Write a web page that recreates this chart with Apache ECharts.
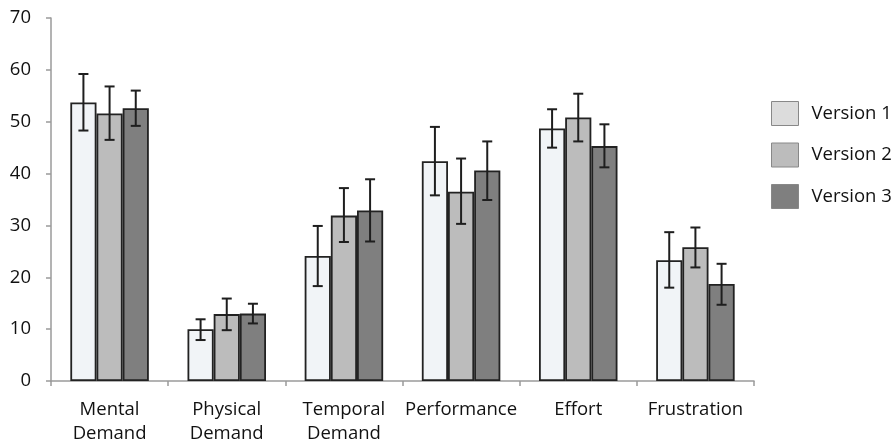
<!DOCTYPE html>
<html>
<head>
<meta charset="utf-8">
<script src="https://cdn.jsdelivr.net/npm/echarts@6/dist/echarts.min.js"></script>
<style>
html,body{margin:0;padding:0;background:#fff;}
#chart{width:893px;height:448px;}
</style>
</head>
<body>
<div id="chart"></div>
<script>
var categories = ['Mental\nDemand', 'Physical\nDemand', 'Temporal\nDemand', 'Performance', 'Effort', 'Frustration'];
var seriesNames = ['Version 1', 'Version 2', 'Version 3'];
var yTicks = [0, 10, 20, 30, 40, 50, 60, 70];

var v1 = [53.7, 10.0, 24.1, 42.4, 48.7, 23.3];
var v2 = [51.6, 12.9, 31.9, 36.5, 50.8, 25.8];
var v3 = [52.6, 13.0, 32.9, 40.6, 45.3, 18.7];

var v1Low  = [48.3, 7.9, 18.3, 35.8, 45.0, 18.0];
var v1High = [59.2, 11.9, 29.9, 49.0, 52.4, 28.7];
var v2Low  = [46.5, 9.8, 26.8, 30.3, 46.2, 21.9];
var v2High = [56.8, 15.9, 37.2, 42.9, 55.4, 29.6];
var v3Low  = [49.2, 11.1, 26.9, 34.9, 41.2, 14.7];
var v3High = [56.0, 14.9, 38.9, 46.2, 49.5, 22.6];

var values = [v1, v2, v3];
var lows = [v1Low, v2Low, v3Low];
var highs = [v1High, v2High, v3High];
var barColors = ['#f1f4f7', '#bcbcbc', '#7f7f7f'];
var legendColors = ['#dcdcdc', '#bcbcbc', '#7f7f7f'];

var chart = echarts.init(document.getElementById('chart'), null, {renderer: 'canvas'});
var GAP = 0.33;

function errorSeries(idx) {
  var data = categories.map(function (c, i) { return [i, lows[idx][i], highs[idx][i]]; });
  return {
    type: 'custom',
    name: seriesNames[idx] + ' err',
    silent: true,
    z: 10,
    data: data,
    renderItem: function (params, api) {
      var ci = api.value(0);
      var lo = api.coord([ci, api.value(1)]);
      var hi = api.coord([ci, api.value(2)]);
      var band = api.size([1, 0])[0];
      var bw = band * (1 - GAP) / 3;
      var x = lo[0] + (idx - 1) * bw;
      var cap = 5;
      var st = {stroke: '#1e1e1e', lineWidth: 2};
      return {
        type: 'group',
        children: [
          {type: 'line', shape: {x1: x, y1: lo[1], x2: x, y2: hi[1]}, style: st},
          {type: 'line', shape: {x1: x - cap, y1: lo[1], x2: x + cap, y2: lo[1]}, style: st},
          {type: 'line', shape: {x1: x - cap, y1: hi[1], x2: x + cap, y2: hi[1]}, style: st}
        ]
      };
    }
  };
}

var series = [];
for (var s = 0; s < 3; s++) {
  series.push({
    type: 'bar',
    name: seriesNames[s],
    data: values[s],
    barGap: '0%',
    barCategoryGap: (GAP * 100) + '%',
    itemStyle: {color: barColors[s], borderColor: '#222', borderWidth: 1.8}
  });
}
for (var s2 = 0; s2 < 3; s2++) series.push(errorSeries(s2));

chart.setOption({
  animation: false,
  textStyle: {fontFamily: 'Open Sans'},
  grid: {left: 51, right: 139, top: 18, bottom: 67},
  legend: {
    orient: 'vertical',
    left: 771,
    top: 101,
    padding: 0,
    itemWidth: 27,
    itemHeight: 24,
    itemGap: 16.5,
    icon: 'rect',
    textStyle: {fontSize: 18.5, color: '#111', fontFamily: 'Open Sans', padding: [0, 0, 0, 8]},
    data: seriesNames.map(function (n, i) {
      return {name: n, itemStyle: {color: legendColors[i], borderColor: '#888', borderWidth: 1}};
    })
  },
  xAxis: {
    type: 'category',
    data: categories,
    axisLine: {lineStyle: {color: '#9a9a9a', width: 1.5}},
    axisTick: {show: true, length: 5, lineStyle: {color: '#9a9a9a', width: 1.5}},
    axisLabel: {fontSize: 18.5, color: '#111', margin: 17, lineHeight: 24, interval: 0}
  },
  yAxis: {
    type: 'value',
    min: yTicks[0],
    max: yTicks[yTicks.length - 1],
    interval: 10,
    splitLine: {show: false},
    axisLine: {show: true, lineStyle: {color: '#9a9a9a', width: 1.5}},
    axisTick: {show: true, length: 5, lineStyle: {color: '#9a9a9a', width: 1.5}},
    axisLabel: {fontSize: 18.5, color: '#111', margin: 20}
  },
  series: series
});
</script>
</body>
</html>
